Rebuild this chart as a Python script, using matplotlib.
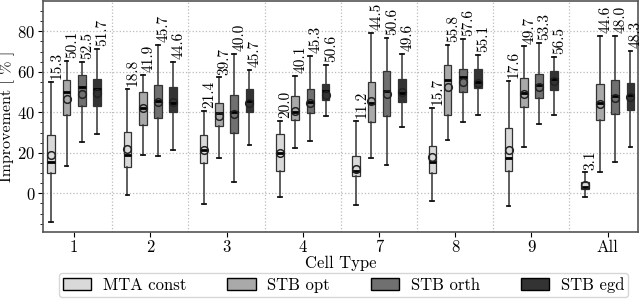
import numpy as np
import matplotlib
matplotlib.use("Agg")
import matplotlib.pyplot as plt
from matplotlib.patches import Patch

plt.rcParams["font.family"] = ["cmr10", "DejaVu Serif"]
plt.rcParams["axes.formatter.use_mathtext"] = True
plt.rcParams["mathtext.fontset"] = "cm"

cell_types = ["1", "2", "3", "4", "7", "8", "9", "All"]
series = ["MTA const", "STB opt", "STB orth", "STB egd"]
colors = ["#d9d9d9", "#a9a9a9", "#707070", "#333333"]

# one row per series, one value per cell type
whis_lo = [
    [-14.1, -1.0, -5.2, -1.8, -5.6, -3.8, -6.4, -1.8],
    [13.3, 18.9, 17.2, 22.5, 17.4, 26.2, 23.1, 10.5],
    [25.2, 18.2, 5.4, 25.9, 13.8, 35.4, 34.4, 15.4],
    [29.3, 21.6, 23.8, 38.2, 32.9, 38.9, 38.7, 23.1],
]
q1 = [
    [10.2, 13.0, 15.1, 11.1, 8.5, 10.2, 11.1, 2.0],
    [38.7, 33.9, 33.3, 36.4, 35.2, 38.9, 42.8, 36.4],
    [43.3, 37.4, 29.8, 39.7, 38.4, 50.2, 46.9, 39.2],
    [43.3, 40.0, 40.0, 46.2, 44.9, 51.8, 51.0, 41.3],
]
medians = [
    [15.3, 18.8, 21.4, 20.0, 11.2, 15.7, 17.6, 3.1],
    [50.1, 41.9, 39.7, 40.1, 44.5, 55.8, 49.7, 44.6],
    [52.5, 45.7, 40.0, 45.3, 50.6, 57.6, 53.3, 48.0],
    [51.7, 44.6, 45.7, 50.6, 49.6, 55.1, 56.5, 48.3],
]
q3 = [
    [29.0, 30.5, 28.9, 29.2, 18.4, 23.3, 32.1, 5.6],
    [55.9, 50.0, 44.6, 48.0, 55.1, 63.4, 56.9, 53.9],
    [58.4, 53.3, 48.4, 51.3, 60.2, 61.6, 59.0, 56.1],
    [56.6, 52.6, 51.5, 53.9, 56.4, 61.3, 60.3, 54.3],
]
whis_hi = [
    [55.1, 51.6, 40.8, 35.6, 35.6, 42.0, 55.7, 10.3],
    [65.4, 58.4, 57.2, 57.9, 79.3, 73.1, 72.5, 77.7],
    [64.9, 73.1, 69.0, 67.9, 76.7, 76.4, 74.4, 77.7],
    [71.5, 64.9, 61.0, 63.6, 68.9, 68.2, 67.4, 70.5],
]
means = [
    [19.0, 22.0, 21.6, 19.7, 11.8, 18.0, 21.6, 3.9],
    [46.4, 42.0, 38.0, 40.8, 45.4, 52.3, 49.2, 44.3],
    [49.0, 45.2, 39.2, 44.6, 49.2, 55.1, 52.5, 46.9],
    [49.3, 44.9, 44.6, 48.7, 49.8, 54.4, 55.6, 47.4],
]

fig = plt.figure(figsize=(6.4, 3.07), dpi=100)
ax = fig.add_axes([0.067, 0.245, 0.93, 0.752])

centers = np.arange(1, len(cell_types) + 1)
offsets = [-0.3, -0.1, 0.1, 0.3]
width = 0.1

for s in range(len(series)):
    stats = []
    for g in range(len(cell_types)):
        stats.append(dict(med=medians[s][g], q1=q1[s][g], q3=q3[s][g],
                          whislo=whis_lo[s][g], whishi=whis_hi[s][g],
                          mean=means[s][g], fliers=[]))
    pos = centers + offsets[s]
    ax.bxp(stats, positions=pos, widths=width, patch_artist=True,
           showmeans=True, showfliers=False,
           boxprops=dict(facecolor=colors[s], edgecolor="#333333", linewidth=0.9),
           whiskerprops=dict(color="#333333", linewidth=1.1),
           capprops=dict(color="#111111", linewidth=1.3),
           medianprops=dict(color="black", linewidth=2.0),
           meanprops=dict(marker="o", markerfacecolor="none",
                          markeredgecolor="#222222", markeredgewidth=1.1,
                          markersize=5.5))
    for g in range(len(cell_types)):
        ax.annotate(f"{medians[s][g]:.1f}", (pos[g], whis_hi[s][g]),
                    xytext=(4, 2), textcoords="offset points",
                    rotation=90, ha="center", va="bottom", fontsize=11)

for b in centers[:-1] + 0.5:
    ax.axvline(b, color="#bbbbbb", linestyle=":", linewidth=0.9, zorder=0)

ax.set_xlim(0.59, 8.4)
ax.set_ylim(-19, 95)
ax.set_xticks(centers)
ax.set_xticklabels(cell_types)
ax.set_yticks([0, 20, 40, 60, 80])
ax.set_yticks(np.arange(-15, 95, 5), minor=True)
ax.yaxis.grid(True, linestyle=":", color="#bbbbbb", linewidth=0.9)
ax.set_axisbelow(True)
ax.tick_params(labelsize=12, pad=2)
ax.set_xlabel("Cell Type", fontsize=12, labelpad=1)
ax.set_ylabel("Improvement [ % ]", fontsize=11.5)
ax.yaxis.set_label_coords(-0.047, 0.5)
for sp in ax.spines.values():
    sp.set_color("#555555")
    sp.set_linewidth(1.2)

handles = [Patch(facecolor=c, edgecolor="black", linewidth=1.0) for c in colors]
fig.legend(handles, series, loc="lower center", bbox_to_anchor=(0.537, 0.005),
           ncol=4, fontsize=12, frameon=True, fancybox=True, edgecolor="#cccccc",
           handlelength=1.7, handleheight=0.7, handletextpad=0.7,
           columnspacing=2.45, borderpad=0.25)

fig.savefig("out.png", dpi=100)
